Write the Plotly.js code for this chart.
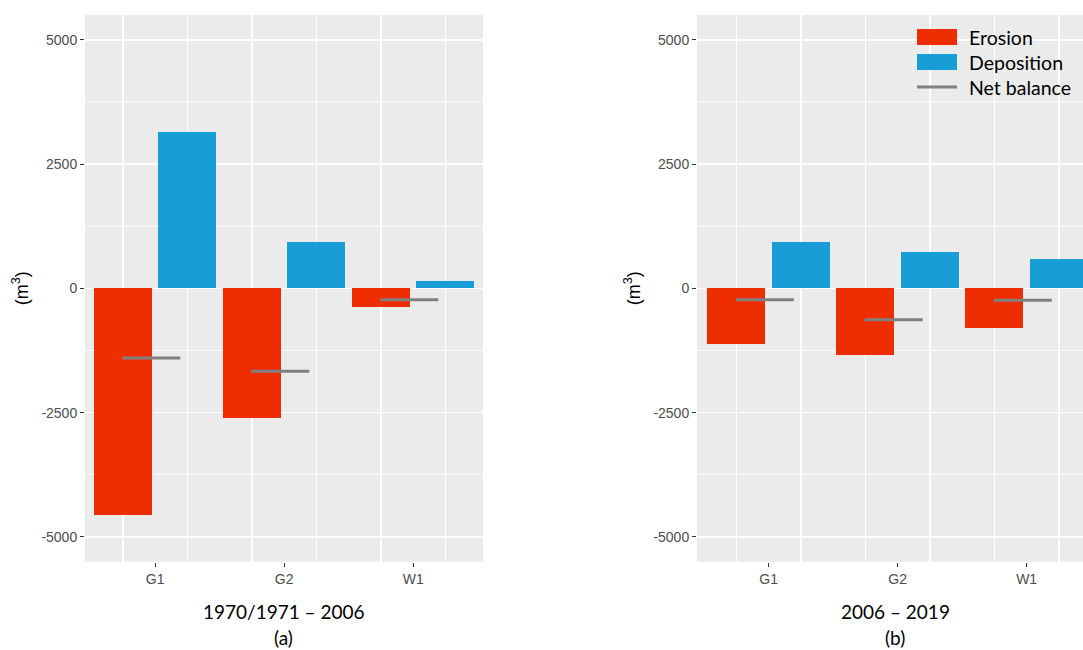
<!DOCTYPE html>
<html><head><meta charset="utf-8">
<script src="https://cdn.plot.ly/plotly-3.0.1.min.js"></script>
<style>html,body{margin:0;padding:0;background:#fff}#chart{width:1083px;height:650px}</style>
</head><body><div id="chart"></div>
<script>
// ---- data ----
const sites = ['G1', 'G2', 'W1'];
const erosionA = [-4550, -2600, -375];
const depositionA = [3150, 930, 150];
const netA = [-1400, -1670, -230];
const erosionB = [-1115, -1350, -805];
const depositionB = [930, 725, 595];
const netB = [-230, -630, -240];
const yTickVals = [-5000, -2500, 0, 2500, 5000];
const yTickText = ['-5000', '-2500', '0', '2500', '5000'];
const periodLabels = ['1970/1971 \u2013 2006', '2006 \u2013 2019'];
const panelTags = ['(a)', '(b)'];
const seriesNames = ['Erosion', 'Deposition', 'Net balance'];

// ---- styles ----
const RED = '#EE2E00', BLUE = '#189DD6', GREY = '#808080';
const idx = sites.map((_, i) => i);
const barW = 0.45;

function netXY(vals) {
  const x = [], y = [];
  vals.forEach((v, i) => { x.push(i - 0.255, i + 0.195, null); y.push(v, v, null); });
  return {x, y};
}

function panel(er, dep, net, xa, ya) {
  const n = netXY(net);
  return [
    {type: 'bar', x: idx.map(i => i - 0.25), y: er, width: barW, marker: {color: RED},
     name: seriesNames[0], xaxis: xa, yaxis: ya, showlegend: false, hoverinfo: 'y'},
    {type: 'bar', x: idx.map(i => i + 0.25), y: dep, width: barW, marker: {color: BLUE},
     name: seriesNames[1], xaxis: xa, yaxis: ya, showlegend: false, hoverinfo: 'y'},
    {type: 'scatter', mode: 'lines', x: n.x, y: n.y, line: {color: GREY, width: 3},
     name: seriesNames[2], xaxis: xa, yaxis: ya, showlegend: false, hoverinfo: 'y'}
  ];
}

const data = [].concat(
  panel(erosionA, depositionA, netA, 'x', 'y'),
  panel(erosionB, depositionB, netB, 'x2', 'y2')
);

const tickFont = {family: 'Liberation Sans, Arial, sans-serif', size: 14, color: '#4D4D4D'};
const gridX = [-0.25, 0.25, 0.75, 1.25, 1.75, 2.25];

function xAxis(domain, range, anchor) {
  return {domain, range, anchor, tickmode: 'array', tickvals: idx, ticktext: sites,
    showgrid: false, zeroline: false, showline: false, ticks: 'outside', ticklen: 4,
    tickwidth: 1, tickcolor: '#333', tickfont: tickFont, fixedrange: true,
    minor: {tickmode: 'array', tickvals: gridX, showgrid: true, gridcolor: '#FFFFFF', gridwidth: 1.6, ticks: ''}};
}
function yAxis(anchor) {
  return {domain: [0.1358, 0.977], range: [-5500, 5500], anchor, tickmode: 'array',
    tickvals: yTickVals, ticktext: yTickText, showgrid: true, gridcolor: '#FFFFFF', gridwidth: 1.6,
    zeroline: false, showline: false, ticks: 'outside', ticklen: 4, tickwidth: 1, tickcolor: '#333',
    tickfont: tickFont, fixedrange: true,
    minor: {dtick: 1250, tick0: 0, showgrid: true, gridcolor: '#FFFFFF', gridwidth: 0.8, ticks: ''},
    title: {text: '(m<sup>3</sup>)', standoff: 8, font: {family: 'Liberation Sans, Arial, sans-serif', size: 18, color: '#000'}}};
}

const calibri = {family: 'Lato, Open Sans, sans-serif', size: 19, color: '#000'};
const W = 1083, H = 650;
const px = v => v / W, py = v => 1 - v / H;

const shapes = [
  {type: 'rect', xref: 'paper', yref: 'paper', x0: px(917), x1: px(957), y0: py(45), y1: py(29), fillcolor: RED, line: {width: 0}},
  {type: 'rect', xref: 'paper', yref: 'paper', x0: px(917), x1: px(957), y0: py(70), y1: py(54), fillcolor: BLUE, line: {width: 0}},
  {type: 'line', xref: 'paper', yref: 'paper', x0: px(917), x1: px(957), y0: py(87), y1: py(87), line: {color: GREY, width: 3}}
];

const legendY = [37, 62, 87];
const annotations = seriesNames.map((s, i) => ({
  text: s, xref: 'paper', yref: 'paper', x: px(967), y: py(legendY[i]), xanchor: 'left', yanchor: 'middle',
  showarrow: false, font: {family: 'Lato, Open Sans, sans-serif', size: 19.5, color: '#000'}
}));
const centers = [px(283.5), px(895)];
periodLabels.forEach((t, i) => {
  annotations.push({text: t, xref: 'paper', yref: 'paper', x: centers[i], y: py(611), xanchor: 'center', yanchor: 'middle', showarrow: false, font: calibri});
  annotations.push({text: panelTags[i], xref: 'paper', yref: 'paper', x: centers[i], y: py(637), xanchor: 'center', yanchor: 'middle', showarrow: false, font: calibri});
});

const layout = {
  width: W, height: H, margin: {l: 0, r: 0, t: 0, b: 0, pad: 0},
  paper_bgcolor: '#FFFFFF', plot_bgcolor: '#EBEBEB', showlegend: false,
  barmode: 'overlay', bargap: 0,
  xaxis: xAxis([85 / W, 483 / W], [-0.544, 2.541], 'y'),
  yaxis: yAxis('x'),
  xaxis2: xAxis([697 / W, 1], [-0.556, 2.437], 'y2'),
  yaxis2: yAxis('x2'),
  shapes, annotations
};

Plotly.newPlot('chart', data, layout, {displayModeBar: false, staticPlot: true});
</script></body></html>
